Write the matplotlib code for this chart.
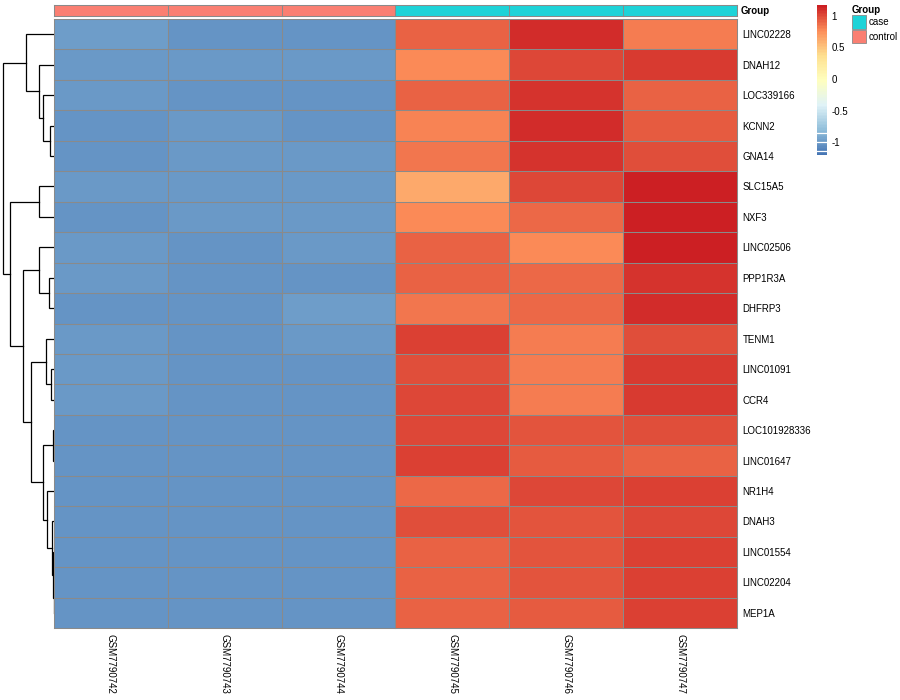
import numpy as np
import matplotlib
matplotlib.use("Agg")
import matplotlib.pyplot as plt
from matplotlib.colors import LinearSegmentedColormap, ListedColormap
from matplotlib.patches import Rectangle

plt.rcParams['font.family'] = ['Liberation Sans', 'DejaVu Sans']

# ---------------- data ----------------
genes = ["LINC02228", "DNAH12", "LOC339166", "KCNN2", "GNA14", "SLC15A5", "NXF3",
         "LINC02506", "PPP1R3A", "DHFRP3", "TENM1", "LINC01091", "CCR4",
         "LOC101928336", "LINC01647", "NR1H4", "DNAH3", "LINC01554", "LINC02204", "MEP1A"]
samples = ["GSM7790742", "GSM7790743", "GSM7790744", "GSM7790745", "GSM7790746", "GSM7790747"]
groups = ["control", "control", "control", "case", "case", "case"]
group_levels = ["case", "control"]

GSM7790742 = [-0.97, -0.99, -0.99, -1.00, -1.01, -0.98, -1.01, -0.99, -0.99, -1.00,
              -0.99, -0.98, -0.98, -1.01, -1.01, -1.01, -1.01, -1.01, -1.01, -1.01]
GSM7790743 = [-1.00, -0.99, -1.00, -0.98, -0.99, -0.98, -0.98, -1.02, -1.01, -1.01,
              -1.00, -1.00, -1.01, -1.01, -1.01, -1.01, -1.01, -1.01, -1.01, -1.01]
GSM7790744 = [-1.00, -0.99, -1.00, -1.01, -0.99, -0.99, -0.98, -0.99, -1.00, -0.97,
              -0.99, -1.00, -1.00, -1.00, -1.00, -1.00, -1.00, -1.00, -1.00, -1.00]
GSM7790745 = [0.94, 0.80, 0.93, 0.83, 0.86, 0.65, 0.80, 0.94, 0.94, 0.88,
              1.06, 1.02, 1.04, 1.03, 1.05, 0.92, 1.00, 0.95, 0.95, 0.94]
GSM7790746 = [1.12, 1.03, 1.11, 1.12, 1.11, 1.03, 0.91, 0.80, 0.92, 0.92,
              0.85, 0.85, 0.85, 0.99, 0.97, 1.04, 0.98, 0.98, 0.98, 0.97]
GSM7790747 = [0.84, 1.09, 0.95, 0.97, 1.02, 1.19, 1.19, 1.18, 1.11, 1.13,
              1.02, 1.09, 1.09, 1.02, 0.94, 1.05, 1.04, 1.06, 1.06, 1.06]

# row dendrogram merges: (left, right, height); leaves 0..19, new nodes 20..
merges = [(3, 4, 4), (2, 20, 11), (1, 21, 15), (0, 22, 28), (5, 6, 15),
          (8, 9, 5), (7, 25, 15), (11, 12, 3), (10, 27, 8), (13, 14, 1),
          (18, 19, 0.4), (17, 30, 1.2), (16, 31, 2.2), (15, 32, 7), (29, 33, 11),
          (28, 34, 23), (26, 35, 31), (24, 36, 44), (23, 37, 51)]

legend_ticks = [-1, -0.5, 0, 0.5, 1]
vmin, vmax = -1.19, 1.19

# ---------------- figure ----------------
W, H = 900, 700
fig = plt.figure(figsize=(9, 7), dpi=100)


def rect(x0, y0, x1, y1):
    return [x0 / W, 1 - y1 / H, (x1 - x0) / W, (y1 - y0) / H]


cmap = LinearSegmentedColormap.from_list(
    "rdylbu", ["#4575B4", "#91BFDB", "#E0F3F8", "#FFFFBF", "#FEE090", "#FC8D59", "#CC1F23"], N=100)
grid_col = "#8A8A8A"
grid_lw = 0.75

data = np.column_stack([GSM7790742, GSM7790743, GSM7790744, GSM7790745, GSM7790746, GSM7790747])
nr, nc = data.shape


def draw_grid(axis, nrows, ncols):
    for r in range(nrows + 1):
        axis.axhline(r, color=grid_col, lw=grid_lw, snap=True, clip_on=False)
    for c in range(ncols + 1):
        axis.axvline(c, color=grid_col, lw=grid_lw, snap=True, clip_on=False)


# heatmap
ax = fig.add_axes(rect(54, 19, 737, 628))
ax.pcolormesh(np.arange(nc + 1), np.arange(nr + 1), data, cmap=cmap, vmin=vmin, vmax=vmax)
ax.set_xlim(0, nc)
ax.set_ylim(nr, 0)
draw_grid(ax, nr, nc)
for s in ax.spines.values():
    s.set_visible(False)
ax.yaxis.tick_right()
ax.set_yticks(np.arange(nr) + 0.5)
ax.set_yticklabels(genes, fontsize=7)
ax.set_xticks(np.arange(nc) + 0.5)
ax.set_xticklabels(samples, fontsize=7, rotation=270, va="top", ha="center")
ax.tick_params(length=0, pad=4)

# annotation bar
axa = fig.add_axes(rect(54, 5, 737, 16))
ann_colors = {"case": "#1DD3D8", "control": "#FA7F72"}
gidx = np.array([[group_levels.index(g) for g in groups]])
axa.pcolormesh(np.arange(nc + 1), [0, 1], gidx,
               cmap=ListedColormap([ann_colors[g] for g in group_levels]), vmin=-0.5, vmax=1.5)
axa.set_xlim(0, nc)
axa.set_ylim(1, 0)
draw_grid(axa, 1, nc)
axa.axis("off")
fig.text(741 / W, 1 - 10.5 / H, "Group", fontsize=7, fontweight="bold", va="center", ha="left")

# dendrogram
axd = fig.add_axes(rect(0, 19, 54, 628))
pos = {i: i + 0.5 for i in range(nr)}
hgt = {i: 0.0 for i in range(nr)}
for k, (a, b, h) in enumerate(merges):
    node = nr + k
    axd.plot([hgt[a], h, h, hgt[b]], [pos[a], pos[a], pos[b], pos[b]], color="black", lw=0.9,
             solid_joinstyle="miter")
    pos[node] = (pos[a] + pos[b]) / 2
    hgt[node] = h
axd.set_xlim(54, 0)
axd.set_ylim(nr, 0)
axd.axis("off")

# colorbar
axc = fig.add_axes(rect(817, 5, 827, 155))
grad = np.linspace(vmin, vmax, 100).reshape(-1, 1)
axc.imshow(grad, cmap=cmap, vmin=vmin, vmax=vmax, aspect="auto", origin="lower",
           extent=[0, 1, vmin, vmax], interpolation="nearest")
axc.set_ylim(vmin, vmax)
axc.set_xlim(0, 1)
axc.axis("off")
for v in [-0.84, -0.985, -1.13]:
    axc.axhline(v, color="white", lw=0.9)
for t in legend_ticks:
    axc.text(1.45, t, "%g" % t, fontsize=7, va="center", ha="left", transform=axc.transData)

# group legend
axl = fig.add_axes([0, 0, 1, 1], facecolor="none")
axl.set_xlim(0, W)
axl.set_ylim(H, 0)
axl.axis("off")
axl.text(852, 10, "Group", fontsize=7, fontweight="bold", va="center", ha="left")
for i, g in enumerate(group_levels):
    y0 = 15 + i * 14.5
    axl.add_patch(Rectangle((852, y0), 14, 13.5, facecolor=ann_colors[g], edgecolor=grid_col, lw=0.6))
    axl.text(869, y0 + 7, g, fontsize=7, va="center", ha="left")

fig.savefig("out.png", dpi=100)
